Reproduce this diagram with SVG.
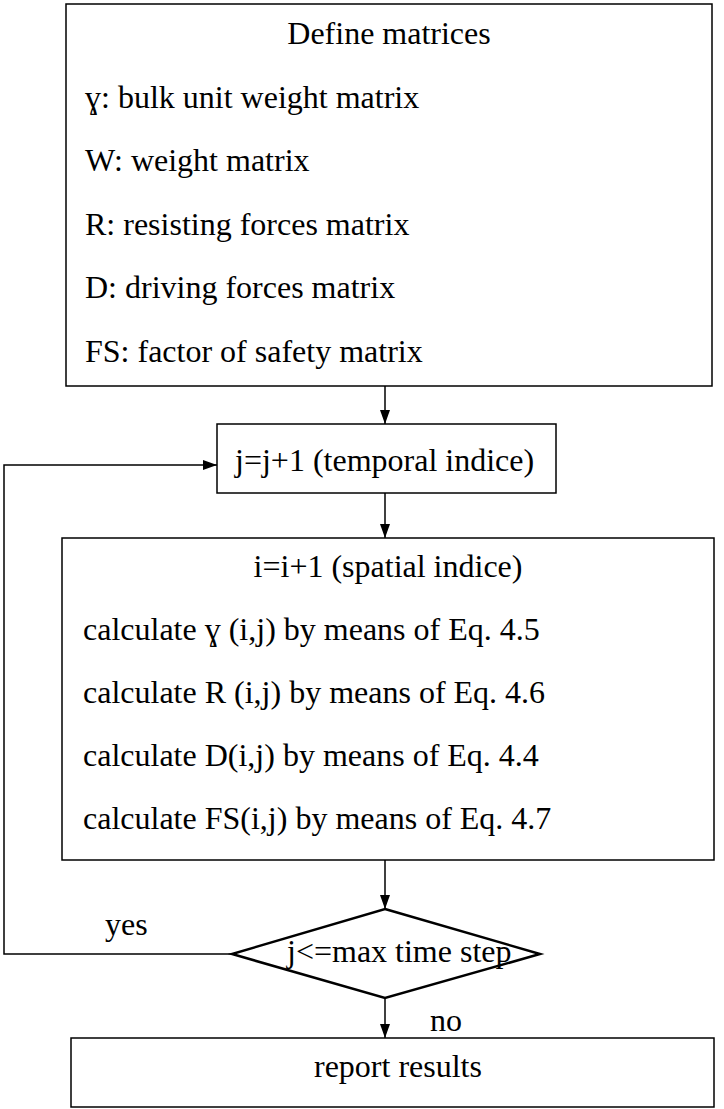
<svg xmlns="http://www.w3.org/2000/svg" width="724" height="1109" viewBox="0 0 724 1109">
<style>
.box{fill:#fff;stroke:#000;stroke-width:1.5}
.dia{fill:#fff;stroke:#000;stroke-width:2.5;stroke-linejoin:miter}
.t{font-family:"Liberation Serif","Times New Roman",serif;font-size:32px;fill:#000}
.c{text-anchor:middle}
.ln{fill:none;stroke:#000;stroke-width:1.5}
</style>
<defs>
<marker id="ah" markerUnits="userSpaceOnUse" markerWidth="14" markerHeight="10" refX="14" refY="5" orient="auto">
<path d="M0,0 L14,5 L0,10 z" fill="#000"/>
</marker>
</defs>
<g id="define">
<rect class="box" x="66" y="4" width="646" height="382"/>
<text class="t c" x="389" y="44">Define matrices</text>
<text class="t" x="85" y="108">ɣ: bulk unit weight matrix</text>
<text class="t" x="85" y="171">W: weight matrix</text>
<text class="t" x="85" y="235">R: resisting forces matrix</text>
<text class="t" x="85" y="298">D: driving forces matrix</text>
<text class="t" x="85" y="362">FS: factor of safety matrix</text>
</g>
<g id="jstep">
<rect class="box" x="217" y="424" width="339" height="69"/>
<text class="t" x="235" y="471">j=j+1 (temporal indice)</text>
</g>
<g id="calc">
<rect class="box" x="62" y="538" width="652" height="322"/>
<text class="t c" x="388" y="577">i=i+1 (spatial indice)</text>
<text class="t" x="83" y="640">calculate ɣ (i,j) by means of Eq. 4.5</text>
<text class="t" x="83" y="703">calculate R (i,j) by means of Eq. 4.6</text>
<text class="t" x="83" y="766">calculate D(i,j) by means of Eq. 4.4</text>
<text class="t" x="83" y="829">calculate FS(i,j) by means of Eq. 4.7</text>
</g>
<g id="decision">
<polygon class="dia" points="385,909 540,954 385,998 232,954"/>
<text class="t" x="287" y="962">j&lt;=max time step</text>
</g>
<g id="report">
<rect class="box" x="71" y="1038" width="643" height="69"/>
<text class="t" x="314" y="1077">report results</text>
</g>
<g id="connectors">
<line class="ln" x1="385" y1="386" x2="385" y2="424" marker-end="url(#ah)"/>
<line class="ln" x1="385" y1="493" x2="385" y2="538" marker-end="url(#ah)"/>
<line class="ln" x1="385" y1="860" x2="385" y2="909" marker-end="url(#ah)"/>
<line class="ln" x1="385" y1="998" x2="385" y2="1038" marker-end="url(#ah)"/>
<polyline class="ln" points="232,954 4,954 4,465 217,465" marker-end="url(#ah)"/>
<text class="t" x="105" y="935">yes</text>
<text class="t" x="430" y="1031">no</text>
</g>
</svg>
